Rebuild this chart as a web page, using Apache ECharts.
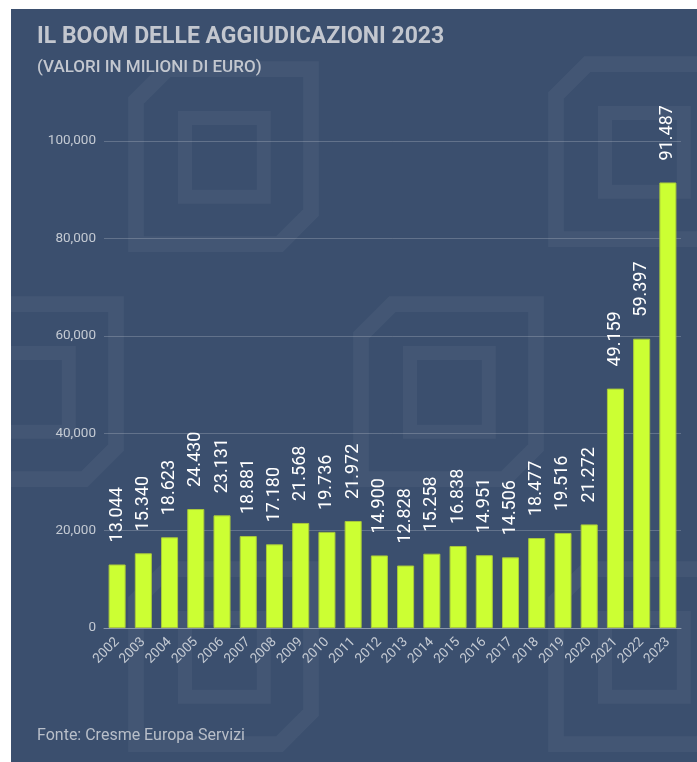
<!DOCTYPE html>
<html><head><meta charset="utf-8">
<script src="https://cdn.jsdelivr.net/npm/echarts@6/dist/echarts.min.js"></script>
<style>
html,body{margin:0;padding:0;background:#fff;width:697px;height:762px;overflow:hidden}
#c{position:absolute;left:11px;top:9px;width:686px;height:753px}
</style></head><body>
<div id="c"></div>
<script>
const years = ['2002','2003','2004','2005','2006','2007','2008','2009','2010','2011','2012','2013','2014','2015','2016','2017','2018','2019','2020','2021','2022','2023'];
const values = [13044,15340,18623,24430,23131,18881,17180,21568,19736,21972,14900,12828,15258,16838,14951,14506,18477,19516,21272,49159,59397,91487];
const yTicks = [0,20000,40000,60000,80000,100000];
const titleText = 'IL BOOM DELLE AGGIUDICAZIONI 2023';
const subtitleText = '(VALORI IN MILIONI DI EURO)';
const sourceText = 'Fonte: Cresme Europa Servizi';

const chart = echarts.init(document.getElementById('c'));
const wm = 'rgba(255,255,255,0.045)';
function logo(x, y, s) {
  const els = [];
  const sq = (ox, oy, w) => [[ox, oy + w*0.18],[ox + w*0.18, oy],[ox + w, oy],[ox + w, oy + w*0.82],[ox + w*0.82, oy + w],[ox, oy + w]];
  els.push({type:'polygon', shape:{points:sq(x, y, s)}, style:{fill:'none', stroke:wm, lineWidth:s*0.09}, silent:true, z:-5});
  els.push({type:'rect', shape:{x:x + s*0.28, y:y + s*0.28, width:s*0.45, height:s*0.45}, style:{fill:'none', stroke:wm, lineWidth:s*0.08}, silent:true, z:-5});
  return els;
}
const graphics = [].concat(
  logo(125, 60, 175),
  logo(545, 55, 175),
  logo(350, 295, 175),
  logo(-70, 295, 175),
  logo(125, 560, 175),
  logo(545, 560, 175)
);

chart.setOption({
  backgroundColor: '#3b4f6e',
  textStyle: {fontFamily: 'Roboto'},
  title: [
    {text: titleText, left: 21, top: 12, textStyle: {color: '#c3c7cf', fontSize: 23, fontWeight: 'bold', fontFamily: 'Roboto'}},
    {text: subtitleText, left: 21, top: 45, textStyle: {color: '#c3c7cf', fontSize: 17, fontWeight: 500, fontFamily: 'Roboto'}},
    {text: sourceText, left: 21, top: 714, textStyle: {color: '#b9bfc9', fontSize: 16, fontWeight: 'normal', fontFamily: 'Roboto'}}
  ],
  graphic: graphics,
  grid: {left: 93, right: 16, top: 132, bottom: 134},
  xAxis: {
    type: 'category', data: years,
    axisLine: {lineStyle: {color: '#8a97ab'}},
    axisTick: {show: false},
    axisLabel: {rotate: 45, color: '#c4cad3', fontSize: 13.5, margin: 12}
  },
  yAxis: {
    type: 'value', min: yTicks[0], max: yTicks[yTicks.length-1], interval: yTicks[1]-yTicks[0],
    axisLine: {show: false}, axisTick: {show: false},
    axisLabel: {color: '#c4cad3', fontSize: 13.5, margin: 8, formatter: v => v.toLocaleString('en-US')},
    splitLine: {lineStyle: {color: 'rgba(255,255,255,0.2)', width: 1}}
  },
  series: [{
    type: 'bar', data: values, barCategoryGap: '35%',
    itemStyle: {color: '#ccff33', borderColor: '#a9c83c', borderWidth: 1},
    label: {
      show: true, position: 'top', rotate: 90, align: 'left', verticalAlign: 'middle', distance: 22,
      color: '#ffffff', fontSize: 18,
      formatter: p => p.value.toLocaleString('de-DE')
    }
  }]
});
</script></body></html>
